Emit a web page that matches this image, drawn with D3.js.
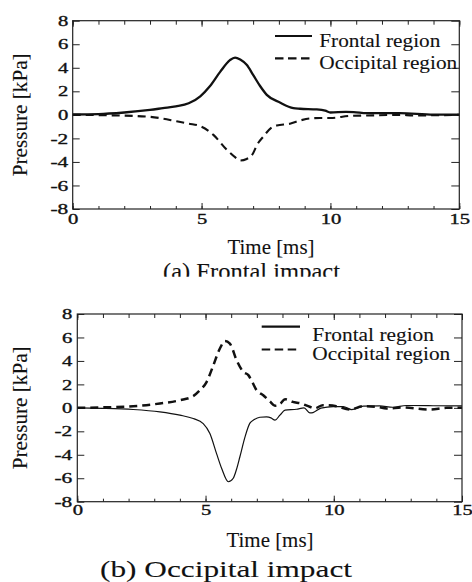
<!DOCTYPE html>
<html><head><meta charset="utf-8">
<script src="https://cdn.jsdelivr.net/npm/d3@7"></script>
<style>
html,body{margin:0;padding:0;background:#fff;}
svg{display:block;}
text{font-family:"Liberation Serif","Times New Roman",serif;fill:#111;stroke:#111;stroke-width:0.1px;}
.tick text{stroke-width:0.35px;}
</style></head>
<body>
<svg id="chart" width="472" height="582"></svg>
<script>
// ---- data ----
const xTicks = [0, 5, 10, 15];
const xMinorTicks = d3.range(0, 16, 1);
const yTicks = [-8, -6, -4, -2, 0, 2, 4, 6, 8];
const seriesNames = ["Frontal region", "Occipital region"];

// (a) Frontal impact
const timeA_frontal = [0, 1.0, 2.0, 3.0, 3.5, 4.0, 4.5, 4.95, 5.33, 5.72, 6.1, 6.3, 6.5, 6.75, 7.0, 7.27, 7.53, 8.04, 8.56, 8.82, 9.47, 9.8, 10.0, 10.6, 10.9, 11.4, 12.7, 14.0, 15];
const pressA_frontal = [0.03, 0.06, 0.2, 0.42, 0.57, 0.72, 0.98, 1.58, 2.45, 3.65, 4.65, 4.87, 4.7, 4.25, 3.4, 2.45, 1.7, 1.05, 0.57, 0.52, 0.46, 0.35, 0.2, 0.25, 0.24, 0.14, 0.14, 0.02, 0.02];
const timeA_occipital = [0, 1.5, 3.0, 3.4, 4.03, 4.5, 4.94, 5.46, 5.98, 6.3, 6.5, 6.75, 7.0, 7.14, 7.4, 7.7, 7.92, 8.43, 8.82, 9.21, 9.6, 10.0, 10.76, 11.4, 12.7, 13.2, 15];
const pressA_occipital = [0, -0.04, -0.17, -0.28, -0.55, -0.75, -0.95, -1.7, -2.97, -3.6, -3.88, -3.75, -3.26, -2.6, -1.84, -1.1, -0.9, -0.75, -0.48, -0.3, -0.27, -0.27, -0.09, -0.06, 0, -0.05, 0];

// (b) Occipital impact
const timeB_frontal = [0, 1.0, 2.18, 3.22, 4.0, 4.52, 4.91, 5.17, 5.43, 5.63, 5.89, 6.08, 6.2, 6.34, 6.54, 6.73, 6.9, 7.12, 7.38, 7.55, 7.71, 7.9, 8.1, 8.55, 8.84, 9.07, 9.19, 9.5, 9.98, 10.37, 10.7, 11.15, 11.79, 12.3, 12.83, 13.87, 15];
const pressB_frontal = [0, -0.04, -0.14, -0.34, -0.62, -0.91, -1.34, -2.19, -3.9, -5.17, -6.3, -6.0, -5.3, -4.17, -2.47, -1.3, -1.0, -0.8, -0.77, -0.85, -1.05, -0.62, -0.2, -0.12, 0.0, -0.43, -0.4, -0.03, 0.1, 0.1, -0.15, 0.14, 0.17, 0.05, 0.2, 0.18, 0.17];
const timeB_occipital = [0, 1.0, 2.18, 3.22, 4.0, 4.52, 4.78, 5.04, 5.3, 5.56, 5.76, 5.95, 6.21, 6.47, 6.67, 6.8, 6.99, 7.25, 7.51, 7.71, 7.9, 8.1, 8.4, 8.73, 9.06, 9.25, 9.58, 10.1, 10.63, 11.15, 11.67, 12.06, 12.7, 13.75, 14.4, 15];
const pressB_occipital = [0, 0.04, 0.14, 0.37, 0.65, 1.0, 1.5, 2.2, 3.6, 5.06, 5.7, 5.48, 4.07, 3.07, 2.79, 2.3, 1.5, 1.08, 0.55, 0.18, 0.31, 0.74, 0.51, 0.37, 0.09, -0.05, 0.23, 0.14, -0.14, 0.14, 0.09, -0.05, 0.03, -0.14, 0, 0];

const svg = d3.select("#chart");

function zip(t, v) { return t.map((d, i) => ({ t: d, v: v[i] })); }

function drawPanel(cfg) {
  const g = svg.append("g");
  const x = d3.scaleLinear().domain([0, 15]).range([cfg.left, cfg.right]);
  const y = d3.scaleLinear().domain([-8, 8]).range([cfg.bottom, cfg.top]);

  const tickLabelW = s => { let w = 0; for (const c of String(s)) w += (c === "-") ? 7.5 : 10.3; return w; };

  const bottom = g.append("g").attr("transform", `translate(0,${cfg.bottom})`)
    .call(d3.axisBottom(x).tickValues(xTicks).tickSize(-6).tickPadding(cfg.xPad).tickFormat(d3.format("d")));
  const bottomMinor = g.append("g").attr("transform", `translate(0,${cfg.bottom})`)
    .call(d3.axisBottom(x).tickValues(xMinorTicks).tickSize(-3).tickFormat(""));
  const top = g.append("g").attr("transform", `translate(0,${cfg.top})`)
    .call(d3.axisTop(x).tickValues(xTicks).tickSize(-6).tickFormat(""));
  const topMinor = g.append("g").attr("transform", `translate(0,${cfg.top})`)
    .call(d3.axisTop(x).tickValues(xMinorTicks).tickSize(-4).tickFormat(""));
  const left = g.append("g").attr("transform", `translate(${cfg.left},0)`)
    .call(d3.axisLeft(y).tickValues(yTicks).tickSize(-7).tickPadding(cfg.yPad).tickFormat(d => d < 0 ? "-" + Math.abs(d) : String(d)));
  const right = g.append("g").attr("transform", `translate(${cfg.right},0)`)
    .call(d3.axisRight(y).tickValues(yTicks).tickSize(-8).tickFormat(""));

  [bottom, bottomMinor, top, topMinor, left, right].forEach(a => {
    a.select(".domain").remove();
    a.selectAll(".tick line").attr("stroke", "#222").attr("stroke-width", 1);
  });
  [bottom, left].forEach(a => a.selectAll(".tick text")
    .style("font-family", '"Liberation Serif", serif')
    .style("font-size", "14.5px")
    .attr("fill", "#111")
    .attr("textLength", function () { return tickLabelW(this.textContent); })
    .attr("lengthAdjust", "spacingAndGlyphs"));

  const line = d3.line().x(d => x(d.t)).y(d => y(d.v)).curve(d3.curveMonotoneX);
  g.append("path").datum(zip(cfg.tO, cfg.vO)).attr("d", line)
    .attr("fill", "none").attr("stroke", "#111").attr("stroke-width", cfg.occW)
    .attr("stroke-dasharray", cfg.dash);
  g.append("path").datum(zip(cfg.tF, cfg.vF)).attr("d", line)
    .attr("fill", "none").attr("stroke", "#111").attr("stroke-width", cfg.froW);

  const lg = cfg.legend;
  g.append("line").attr("x1", lg.lx1).attr("x2", lg.lx2).attr("y1", lg.y1).attr("y2", lg.y1)
    .attr("stroke", "#111").attr("stroke-width", 2.2);
  g.append("line").attr("x1", lg.lx1).attr("x2", lg.lx2).attr("y1", lg.y2).attr("y2", lg.y2)
    .attr("stroke", "#111").attr("stroke-width", 2.2).attr("stroke-dasharray", "8.5,4.5");
  g.append("text").attr("x", lg.tx).attr("y", lg.b1).style("font-size", lg.fs + "px")
    .attr("textLength", lg.w1).attr("lengthAdjust", "spacingAndGlyphs").text(seriesNames[0]);
  g.append("text").attr("x", lg.tx).attr("y", lg.b2).style("font-size", lg.fs + "px")
    .attr("textLength", lg.w2).attr("lengthAdjust", "spacingAndGlyphs").text(seriesNames[1]);

  g.append("rect").attr("x", cfg.left).attr("y", cfg.top)
    .attr("width", cfg.right - cfg.left).attr("height", cfg.bottom - cfg.top)
    .attr("fill", "none").attr("stroke", "#222").attr("stroke-width", 1.2);

  g.append("text").attr("transform", `translate(27,${(cfg.top + cfg.bottom) / 2}) rotate(-90)`)
    .attr("text-anchor", "middle").style("font-size", "20px")
    .attr("textLength", 123).attr("lengthAdjust", "spacingAndGlyphs").text("Pressure [kPa]");
  g.append("text").attr("x", cfg.xtX).attr("y", cfg.xtY).attr("text-anchor", "middle")
    .style("font-size", "20px").attr("textLength", 87).attr("lengthAdjust", "spacingAndGlyphs").text("Time [ms]");

  const cap = g.append("text").attr("x", cfg.capX).attr("y", cfg.capY).attr("text-anchor", "middle")
    .style("font-size", cfg.capFs + "px").attr("textLength", cfg.capW).attr("lengthAdjust", "spacingAndGlyphs")
    .text(cfg.caption);
  if (cfg.capClip) {
    svg.append("clipPath").attr("id", "capclip").append("rect")
      .attr("x", 0).attr("y", 0).attr("width", 472).attr("height", cfg.capClip);
    cap.attr("clip-path", "url(#capclip)");
  }
}

drawPanel({
  left: 72.7, right: 459.3, top: 20.7, bottom: 209,
  xPad: 5, yPad: 4.5,
  tF: timeA_frontal, vF: pressA_frontal, tO: timeA_occipital, vO: pressA_occipital,
  froW: 2.3, occW: 2.1, dash: "8,5",
  legend: { lx1: 275, lx2: 312, y1: 36, y2: 58.3, tx: 319.3, b1: 47.3, b2: 69, fs: 19.5, w1: 121, w2: 138 },
  xtX: 271, xtY: 253.5,
  caption: "(a) Frontal impact", capX: 251.5, capY: 279, capFs: 23, capW: 177, capClip: 276.8
});

drawPanel({
  left: 77.3, right: 462, top: 314, bottom: 501.7,
  xPad: 3, yPad: 5,
  tF: timeB_frontal, vF: pressB_frontal, tO: timeB_occipital, vO: pressB_occipital,
  froW: 1.2, occW: 2.5, dash: "8,5",
  legend: { lx1: 261.7, lx2: 300, y1: 326.7, y2: 349.5, tx: 312.3, b1: 340.5, b2: 360.3, fs: 18.5, w1: 121.7, w2: 138 },
  xtX: 270, xtY: 546.5,
  caption: "(b) Occipital impact", capX: 226, capY: 577, capFs: 24, capW: 252, capClip: null
});
</script>
</body></html>
